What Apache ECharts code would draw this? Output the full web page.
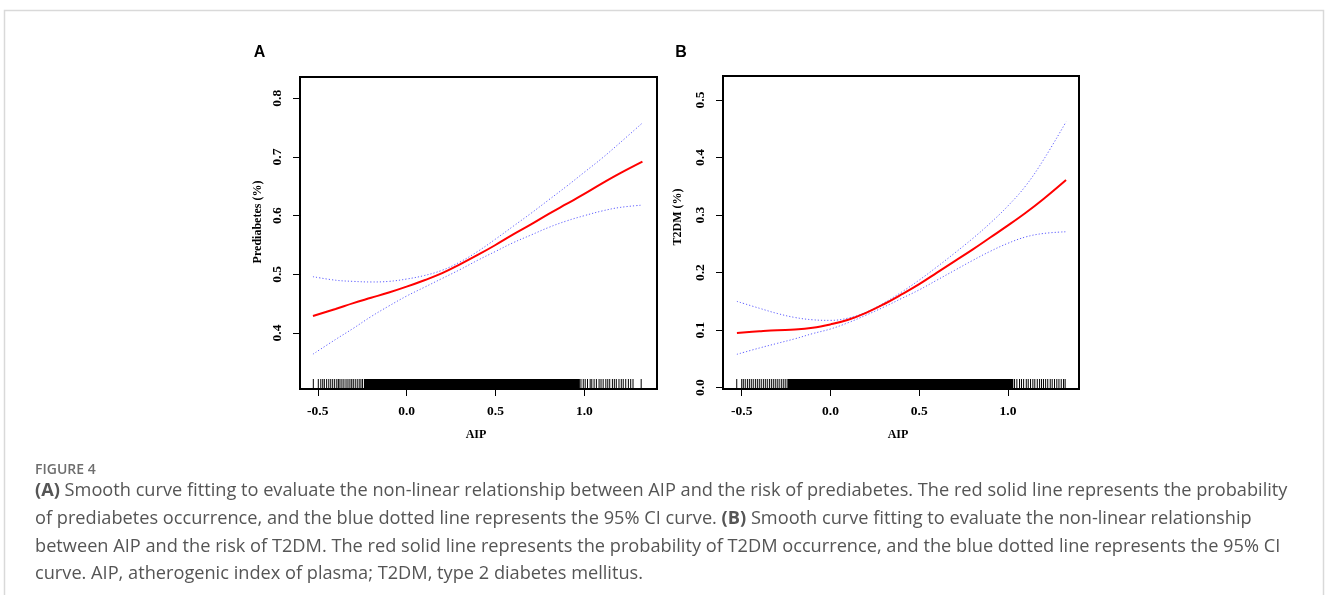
<!DOCTYPE html>
<html>
<head>
<meta charset="utf-8">
<script src="https://cdn.jsdelivr.net/npm/echarts@6/dist/echarts.min.js"></script>
<style>
  html, body { margin: 0; padding: 0; background: #fff; }
  #chart { width: 1328px; height: 595px; }
</style>
</head>
<body>
<div id="chart"></div>
<script>
// AIP values where the fitted curves were read
const aip = [-0.527, -0.4, -0.3, -0.2, -0.1, 0.0, 0.1, 0.2, 0.3, 0.4, 0.5, 0.6, 0.7, 0.8, 0.9, 1.0, 1.1, 1.2, 1.327];

// Panel A: prediabetes
const preFit = [0.429, 0.441, 0.451, 0.460, 0.469, 0.479, 0.490, 0.502, 0.517, 0.533, 0.550, 0.568, 0.585, 0.603, 0.620, 0.637, 0.655, 0.672, 0.692];
const preUpper = [0.496, 0.490, 0.488, 0.487, 0.488, 0.492, 0.498, 0.507, 0.521, 0.539, 0.560, 0.582, 0.604, 0.627, 0.650, 0.674, 0.698, 0.724, 0.758];
const preLower = [0.364, 0.389, 0.408, 0.428, 0.446, 0.463, 0.478, 0.493, 0.508, 0.524, 0.539, 0.554, 0.567, 0.580, 0.591, 0.600, 0.608, 0.614, 0.618];

// Panel B: T2DM
const t2dmFit = [0.095, 0.098, 0.100, 0.101, 0.104, 0.110, 0.118, 0.130, 0.145, 0.162, 0.180, 0.200, 0.220, 0.240, 0.261, 0.282, 0.304, 0.328, 0.361];
const t2dmUpper = [0.150, 0.138, 0.129, 0.122, 0.118, 0.117, 0.121, 0.131, 0.147, 0.166, 0.187, 0.210, 0.234, 0.259, 0.286, 0.316, 0.351, 0.396, 0.462];
const t2dmLower = [0.058, 0.069, 0.077, 0.085, 0.094, 0.102, 0.113, 0.126, 0.140, 0.155, 0.170, 0.187, 0.204, 0.221, 0.237, 0.251, 0.262, 0.268, 0.271];

// rug marks (sparse ends) and the solid dense part in between
const rugA = [-0.525, -0.497, -0.483, -0.472, -0.463, -0.450, -0.438, -0.427, -0.416, -0.405, -0.393, -0.384, -0.375, -0.364, -0.353, -0.341, -0.330, -0.319, -0.309, -0.300, -0.289, -0.278, -0.267, -0.257, -0.248,
  0.981, 0.994, 1.005, 1.018, 1.033, 1.042, 1.055, 1.068, 1.083, 1.094, 1.106, 1.121, 1.132, 1.143, 1.158, 1.169, 1.180, 1.195, 1.208, 1.219, 1.233, 1.248, 1.261, 1.274, 1.320];
const rugADense = [-0.240, 0.975];
const rugB = [-0.528, -0.500, -0.491, -0.480, -0.468, -0.457, -0.446, -0.435, -0.423, -0.412, -0.401, -0.390, -0.378, -0.367, -0.356, -0.344, -0.333, -0.322, -0.311, -0.300, -0.289, -0.277, -0.266, -0.255, -0.244,
  1.037, 1.050, 1.065, 1.076, 1.088, 1.103, 1.114, 1.127, 1.140, 1.151, 1.165, 1.178, 1.189, 1.200, 1.212, 1.224, 1.238, 1.249, 1.262, 1.275, 1.287, 1.300, 1.313, 1.322];
const rugBDense = [-0.240, 1.030];

const xTicks = [-0.5, 0.0, 0.5, 1.0];
const yTicksA = [0.4, 0.5, 0.6, 0.7, 0.8];
const yTicksB = [0.0, 0.1, 0.2, 0.3, 0.4, 0.5];

const captionTitle = 'FIGURE 4';
const captionLines = [
  '{b|(A)} Smooth curve fitting to evaluate the non-linear relationship between AIP and the risk of prediabetes. The red solid line represents the probability',
  'of prediabetes occurrence, and the blue dotted line represents the 95% CI curve. {b|(B)} Smooth curve fitting to evaluate the non-linear relationship',
  'between AIP and the risk of T2DM. The red solid line represents the probability of T2DM occurrence, and the blue dotted line represents the 95% CI',
  'curve. AIP, atherogenic index of plasma; T2DM, type 2 diabetes mellitus.'
];

const serif = '"Liberation Serif", "DejaVu Serif", serif';
const sans = '"Open Sans", "Noto Sans", sans-serif';
const pair = (ys) => aip.map((x, i) => [x, ys[i]]);

const chart = echarts.init(document.getElementById('chart'), null, { renderer: 'canvas' });

function xAxisFor(gridIndex, min, max) {
  return {
    type: 'value', gridIndex, min, max,
    splitLine: { show: false },
    axisLine: { show: false, onZero: false },
    axisTick: { show: true, customValues: xTicks, length: 7, lineStyle: { color: '#000', width: 1 } },
    axisLabel: {
      customValues: xTicks, margin: 16, color: '#000',
      fontFamily: serif, fontWeight: 'bold', fontSize: 13.5,
      formatter: (v) => v.toFixed(1)
    }
  };
}

function yAxisFor(gridIndex, min, max, ticks) {
  return {
    type: 'value', gridIndex, min, max,
    splitLine: { show: false },
    axisLine: { show: false, onZero: false },
    axisTick: { show: true, customValues: ticks, length: 7, lineStyle: { color: '#000', width: 1 } },
    axisLabel: {
      customValues: ticks, margin: 15, rotate: 90, color: '#000',
      fontFamily: serif, fontWeight: 'bold', fontSize: 13.5,
      formatter: (v) => v.toFixed(1)
    }
  };
}

function curveSeries(idx, data, fit) {
  return {
    type: 'line', xAxisIndex: idx, yAxisIndex: idx, data,
    smooth: 0.4, symbol: 'none', silent: true,
    lineStyle: fit
      ? { color: '#ff0000', width: 2 }
      : { color: '#6060ff', width: 1, type: [1.2, 2] },
    z: fit ? 4 : 3
  };
}

function rugSeries(idx, values, yMin) {
  return {
    type: 'custom', xAxisIndex: idx, yAxisIndex: idx,
    data: values.map((v) => [v, yMin]),
    encode: { x: 0, y: 1 },
    renderItem: (params, api) => {
      const p = api.coord([api.value(0), api.value(1)]);
      return {
        type: 'line',
        shape: { x1: p[0], y1: p[1], x2: p[0], y2: p[1] - 10 },
        style: { stroke: '#000', lineWidth: 1 }
      };
    }
  };
}

function rugBandSeries(idx, band, yMin) {
  return {
    type: 'custom', xAxisIndex: idx, yAxisIndex: idx,
    data: [[band[0], band[1], yMin]],
    encode: { x: [0, 1], y: 2 },
    renderItem: (params, api) => {
      const a = api.coord([api.value(0), api.value(2)]);
      const b = api.coord([api.value(1), api.value(2)]);
      return {
        type: 'rect',
        shape: { x: a[0], y: a[1] - 10, width: b[0] - a[0], height: 10 },
        style: { fill: '#000' }
      };
    }
  };
}

const yMinA = 0.3046;
const yMinB = -0.0023;

const graphics = [
  { type: 'rect', shape: { x: 4.5, y: 10.5, width: 1319, height: 620 }, style: { fill: 'none', stroke: '#d9d9d9', lineWidth: 1.5 }, z: 0 },
  { type: 'text', x: 259.5, y: 53, style: { text: 'A', font: 'bold 16px "Liberation Sans", Arial, sans-serif', fill: '#000', textAlign: 'center', textVerticalAlign: 'middle' } },
  { type: 'text', x: 681, y: 53, style: { text: 'B', font: 'bold 16px "Liberation Sans", Arial, sans-serif', fill: '#000', textAlign: 'center', textVerticalAlign: 'middle' } },
  { type: 'text', x: 476, y: 435, style: { text: 'AIP', font: 'bold 12px ' + serif, fill: '#000', textAlign: 'center', textVerticalAlign: 'middle' } },
  { type: 'text', x: 898, y: 435, style: { text: 'AIP', font: 'bold 12px ' + serif, fill: '#000', textAlign: 'center', textVerticalAlign: 'middle' } },
  { type: 'text', x: 257.5, y: 222, rotation: Math.PI / 2, style: { text: 'Prediabetes (%)', font: 'bold 12px ' + serif, fill: '#000', textAlign: 'center', textVerticalAlign: 'middle' } },
  { type: 'text', x: 678, y: 217, rotation: Math.PI / 2, style: { text: 'T2DM (%)', font: 'bold 12px ' + serif, fill: '#000', textAlign: 'center', textVerticalAlign: 'middle' } },
  { type: 'text', x: 35, y: 470, style: { text: captionTitle, font: '600 14px ' + sans, fill: '#6e6e6e', textVerticalAlign: 'middle' } }
];

captionLines.forEach((line, i) => {
  graphics.push({
    type: 'text', x: 35, y: 491 + i * 27.7,
    style: {
      text: line,
      font: '18.2px ' + sans,
      fill: '#555555',
      textVerticalAlign: 'middle',
      rich: { b: { fontWeight: 'bold', fontSize: 18.2, fontFamily: sans, fill: '#555555' } }
    }
  });
});

chart.setOption({
  backgroundColor: '#fff',
  animation: false,
  grid: [
    { left: 300, top: 77, width: 357, height: 312, show: true, borderColor: '#000', borderWidth: 2, backgroundColor: 'transparent' },
    { left: 723, top: 76, width: 356, height: 313, show: true, borderColor: '#000', borderWidth: 2, backgroundColor: 'transparent' }
  ],
  xAxis: [
    xAxisFor(0, -0.6, 1.409),
    xAxisFor(1, -0.6054, 1.400)
  ],
  yAxis: [
    yAxisFor(0, yMinA, 0.8363, yTicksA),
    yAxisFor(1, yMinB, 0.5417, yTicksB)
  ],
  series: [
    curveSeries(0, pair(preUpper), false),
    curveSeries(0, pair(preLower), false),
    curveSeries(0, pair(preFit), true),
    rugSeries(0, rugA, yMinA),
    rugBandSeries(0, rugADense, yMinA),
    curveSeries(1, pair(t2dmUpper), false),
    curveSeries(1, pair(t2dmLower), false),
    curveSeries(1, pair(t2dmFit), true),
    rugSeries(1, rugB, yMinB),
    rugBandSeries(1, rugBDense, yMinB)
  ],
  graphic: graphics
});

window.addEventListener('resize', () => {
  chart && chart.resize();
});
</script>
</body>
</html>
